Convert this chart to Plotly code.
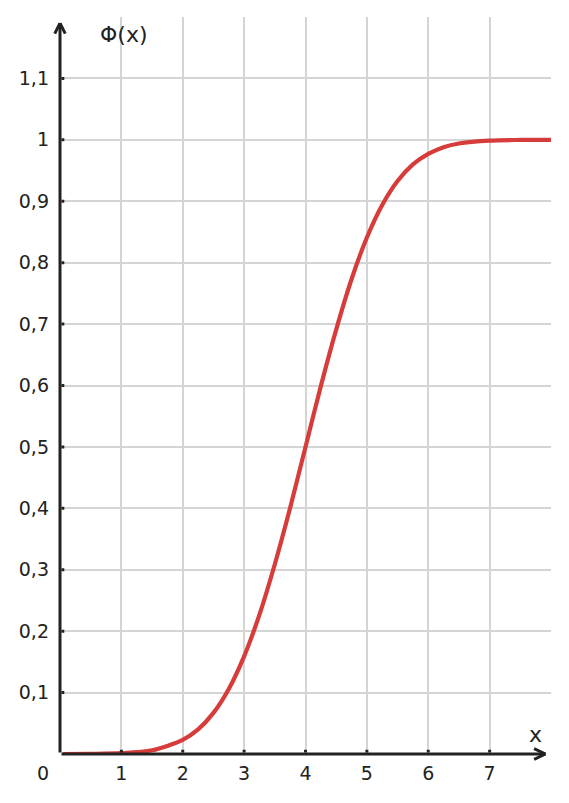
import plotly.graph_objects as go

# Data
x_vals = [0.05, 0.5, 1.0, 1.5, 2.0, 2.25, 2.5, 2.75, 3.0, 3.25, 3.5, 3.75, 4.0,
          4.25, 4.5, 4.75, 5.0, 5.25, 5.5, 5.75, 6.0, 6.25, 6.5, 7.0, 7.5, 8.0]
phi_vals = [0.0, 0.0002, 0.0013, 0.006, 0.023, 0.04, 0.067, 0.106, 0.159, 0.227,
            0.309, 0.401, 0.5, 0.599, 0.691, 0.773, 0.841, 0.894, 0.933, 0.96,
            0.977, 0.988, 0.994, 0.9987, 0.9998, 1.0]
x_ticks = [1, 2, 3, 4, 5, 6, 7]
x_ticklabels = ["1", "2", "3", "4", "5", "6", "7"]
y_ticks = [0.1, 0.2, 0.3, 0.4, 0.5, 0.6, 0.7, 0.8, 0.9, 1.0, 1.1]
y_ticklabels = ["0,1", "0,2", "0,3", "0,4", "0,5", "0,6", "0,7", "0,8", "0,9", "1", "1,1"]

FONT = "DejaVu Sans"
INK = "#222222"
GRID = "#d4d4d4"
TICKFONT = dict(family=FONT, size=19, color=INK)

fig = go.Figure()
fig.add_trace(go.Scatter(
    x=x_vals, y=phi_vals, mode="lines",
    line=dict(color="#d63c3a", width=4.2, shape="spline", smoothing=0.8),
    hoverinfo="skip", showlegend=False, cliponaxis=False,
))

fig.update_layout(
    width=561, height=795,
    margin=dict(l=52, r=18, t=9, b=49),
    paper_bgcolor="white", plot_bgcolor="white",
    font=dict(family=FONT, size=19, color=INK),
    showlegend=False,
    xaxis=dict(range=[0, 8], tickvals=x_ticks, ticktext=x_ticklabels,
               showgrid=True, gridcolor=GRID, gridwidth=2, zeroline=False,
               showline=False, ticks="", ticklabelstandoff=6,
               tickfont=TICKFONT),
    yaxis=dict(range=[0, 1.2], tickvals=y_ticks, ticktext=y_ticklabels,
               showgrid=True, gridcolor=GRID, gridwidth=2, zeroline=False,
               showline=False, ticks="", ticklabelstandoff=10,
               tickfont=TICKFONT),
)

# axis lines, open arrowheads and small tick marks as head-less annotation arrows
segments = [
    ((0, 0), (7.91, 0)),
    ((0, 0), (0, 1.19)),
    ((7.70, 0.0098), (7.91, 0)),
    ((7.70, -0.0098), (7.91, 0)),
    ((-0.098, 1.1705), (0, 1.19)),
    ((0.098, 1.1705), (0, 1.19)),
]
segments += [((t, 0), (t, 0.007)) for t in x_ticks]
segments += [((0, t), (0.07, t)) for t in y_ticks]
for (x0, y0), (x1, y1) in segments:
    fig.add_annotation(x=x1, y=y1, ax=x0, ay=y0, xref="x", yref="y",
                       axref="x", ayref="y", text="", showarrow=True,
                       arrowhead=0, arrowwidth=3, arrowcolor=INK,
                       standoff=0, startstandoff=0)

fig.add_annotation(x=0, y=0, xref="x", yref="y", text="0", showarrow=False,
                   xshift=-17, yshift=-19, font=TICKFONT)
fig.add_annotation(x=1.04, y=1.172, xref="x", yref="y", text="Φ(x)", showarrow=False,
                   font=dict(family=FONT, size=22, color=INK))
fig.add_annotation(x=7.755, y=0.032, xref="x", yref="y", text="x", showarrow=False,
                   font=dict(family=FONT, size=22, color=INK))

fig.write_html("out.html")
